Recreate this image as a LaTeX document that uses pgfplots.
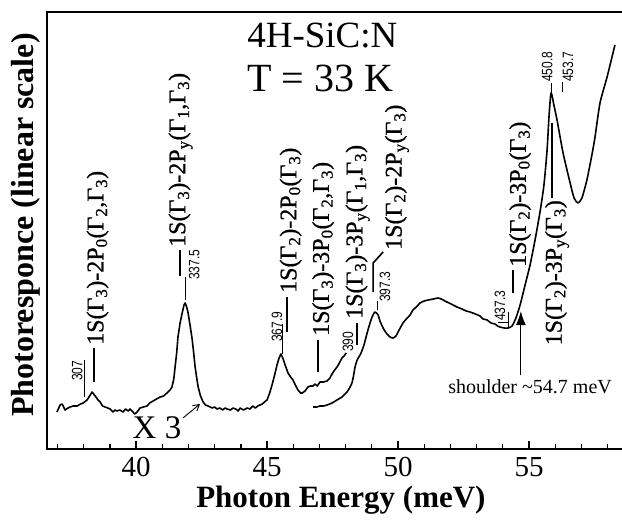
\documentclass[border=0pt]{standalone}
\usepackage{fontspec}
\setmainfont{Liberation Serif}
\newfontfamily\nar[FakeStretch=0.8]{Liberation Sans}
\newfontfamily\labf[FakeBold=0.8]{Liberation Serif}
\usepackage{pgfplots}
\pgfplotsset{compat=1.18}
\usetikzlibrary{arrows.meta}
\newcommand\lab{\labf\fontsize{24}{28}\selectfont}
\newcommand\num{\nar\fontsize{15}{18}\selectfont}
\newcommand\G[1]{Γ\textsubscript{#1}}
\newcommand\sub[1]{\textsubscript{#1}}
\pgfplotstableread{
E Y
36.98 37
37.10 44
37.18 45
37.29 39
37.40 41
37.48 42
37.60 43
37.75 43
37.88 45
37.98 46
38.13 49
38.25 54
38.32 57
38.44 53
38.55 49
38.63 47
38.72 43
38.82 42
38.92 41
39.01 40
39.12 37
39.20 39
39.27 38
39.38 39
39.50 37
39.60 40
39.70 38
39.77 40
39.88 37
39.95 35
40.04 37
40.15 41
40.28 42
40.42 43
40.52 46
40.65 48
40.78 50
40.92 52
41.05 53
41.18 56
41.30 59
41.37 62
41.44 70
41.49 82
41.55 96
41.60 112
41.68 126
41.76 136
41.83 144
41.87 146
41.92 143
41.98 137
42.06 124
42.14 110
42.20 96
42.25 83
42.31 72
42.37 62
42.46 53
42.56 47
42.65 44
42.75 43
42.90 41
43.00 42
43.09 40
43.20 41
43.30 39
43.40 41
43.47 40
43.60 39
43.70 41
43.80 40
43.90 38
43.97 41
44.10 39
44.24 41
44.35 40
44.45 43
44.55 41
44.65 43
44.73 44
44.82 45
44.90 47
45.00 49
45.10 56
45.19 64
45.28 73
45.38 84
45.46 91
45.53 95
45.60 91
45.69 84
45.80 76
45.90 72
45.99 69
46.08 64
46.18 59
46.28 56
46.34 56
46.45 58
46.56 62
46.65 63
46.75 63
46.83 65
46.92 63
47.02 67
47.15 67
47.29 68
47.40 71
47.48 75
47.58 79
47.67 82
47.76 86
47.86 91
47.94 93
48.02 96
}\lowcurve
\pgfplotstableread{
E Y
46.76 42
46.90 42
47.02 43
47.15 43
47.29 44
47.48 46
47.67 49
47.86 52
48.05 57
48.15 61
48.24 66
48.30 73
48.36 82
48.44 89
48.55 94
48.62 98
48.70 104
48.82 116
48.92 125
49.01 132
49.12 137
49.24 134
49.31 128
49.45 120
49.58 115
49.70 112
49.81 111
49.92 113
50.00 117
50.19 126
50.35 131
50.46 134
50.57 139
50.70 142
50.84 146
51.00 148
51.15 149
51.35 150
51.53 151
51.65 150
51.79 148
51.95 146
52.10 144
52.25 142
52.44 140
52.60 138
52.75 137
52.95 135
53.13 133
53.25 130
53.40 129
53.55 126
53.70 125
53.80 123
53.89 122
54.05 121
54.20 121
54.35 123
54.50 131
54.66 144
54.85 164
55.04 184
55.23 209
55.42 237
55.57 264
55.69 299
55.76 331
55.84 356
55.95 344
56.07 329
56.30 296
56.57 266
56.72 251
56.87 246
57.02 251
57.21 269
57.40 294
57.52 312
57.71 346
57.98 372
58.28 404
}\highcurve
\begin{document}
\begin{tikzpicture}
\begin{axis}[
  scale only axis, width=575pt, height=437pt,
  xmin=36.6, xmax=58.55, ymin=0, ymax=437,
  clip=false,
  axis line style={draw=none},
  xtick={40,45,50,55}, minor xtick={37,38,...,58}, ytick=\empty,
  xtick pos=bottom, tick align=inside,
  major tick length=8pt, minor tick length=5pt,
  every tick/.style={black, line width=1.3pt},
  /pgf/number format/assume math mode=true,
  xticklabel style={font=\fontsize{29}{32}\selectfont, yshift=-5pt},
]
\draw[line width=2.4pt, line join=miter] (rel axis cs:1,1) -- (rel axis cs:0,1) -- (rel axis cs:0,0) -- (rel axis cs:1,0);
\coordinate (bbsw) at (rel axis cs:0,0);
\coordinate (bbne) at (rel axis cs:1,1);

\addplot[black, line width=1.6pt, line join=round] table[x=E,y=Y] {\lowcurve};
\addplot[black, line width=1.6pt, line join=round, smooth, tension=0.4] table[x=E,y=Y] {\highcurve};

% axis labels
\node[font=\fontsize{31}{34}\selectfont\bfseries] at ([yshift=-51pt]axis cs:47.82,0) {Photon Energy (meV)};
\node[font=\fontsize{32}{36}\selectfont\bfseries, rotate=90] at ([xshift=-21pt]axis cs:36.6,224) {Photoresponce (linear scale)};

% title
\node[anchor=west, inner sep=0, font=\fontsize{37}{40}\selectfont] at (axis cs:44.24,413) {4H-SiC:N};
\node[anchor=west, inner sep=0, font=\fontsize{40}{44}\selectfont] at (axis cs:44.24,371) {T = 33 K};

% line labels
\draw[line width=2.2pt] (axis cs:38.38,67) -- (axis cs:38.38,101);
\node[rotate=90, anchor=west, inner sep=0, font=\lab] at (axis cs:38.53,104) {1S(\G3)-2P\sub0(\G2,\G3)};
\draw[line width=0.8pt] (axis cs:38.02,52) -- (axis cs:38.02,89);
\node[rotate=90, anchor=west, inner sep=0, font=\num] at (axis cs:37.75,68) {307};

\draw[line width=2.2pt] (axis cs:41.68,173) -- (axis cs:41.68,199);
\node[rotate=90, anchor=west, inner sep=0, font=\lab] at (axis cs:41.70,202) {1S(\G3)-2P\sub{y}(\G1,\G3)};
\draw[line width=0.8pt] (axis cs:41.87,149) -- (axis cs:41.87,172);
\node[rotate=90, anchor=west, inner sep=0, font=\num] at (axis cs:42.22,169) {337.5};

\draw[line width=0.8pt] (axis cs:45.57,95) -- (axis cs:45.57,125);
\node[rotate=90, anchor=west, inner sep=0, font=\num] at (axis cs:45.38,107) {367.9};
\draw[line width=2.2pt] (axis cs:45.75,117) -- (axis cs:45.75,152);
\node[rotate=90, anchor=west, inner sep=0, font=\lab] at (axis cs:45.90,156) {1S(\G2)-2P\sub0(\G3)};

\draw[line width=2.2pt] (axis cs:46.95,77) -- (axis cs:46.95,109);
\node[rotate=90, anchor=west, inner sep=0, font=\lab] at (axis cs:47.14,113) {1S(\G3)-3P\sub0(\G2,\G3)};

\node[rotate=90, anchor=west, inner sep=0, font=\num] at (axis cs:48.09,97) {390};
\draw[line width=2.2pt] (axis cs:48.44,104) -- (axis cs:48.44,126);
\node[rotate=90, anchor=west, inner sep=0, font=\lab] at (axis cs:48.46,130) {1S(\G3)-3P\sub{y}(\G1,\G3)};

\draw[line width=0.8pt] (axis cs:49.20,139) -- (axis cs:49.20,148);
\node[rotate=90, anchor=west, inner sep=0, font=\num] at (axis cs:49.50,147) {397.3};
\draw[line width=1.6pt] (axis cs:49.05,157) -- (axis cs:49.05,186) -- (axis cs:49.43,197);
\node[rotate=90, anchor=west, inner sep=0, font=\lab] at (axis cs:49.96,199) {1S(\G2)-2P\sub{y}(\G3)};

\draw[line width=0.8pt] (axis cs:54.20,121) -- (axis cs:54.20,137);
\draw[line width=0.8pt] (axis cs:53.80,127) -- (axis cs:54.20,127);
\node[rotate=90, anchor=west, inner sep=0, font=\num] at (axis cs:53.89,128) {437.3};

\draw[line width=2.2pt] (axis cs:54.40,156) -- (axis cs:54.40,179);
\node[rotate=90, anchor=west, inner sep=0, font=\lab] at (axis cs:54.66,182) {1S(\G2)-3P\sub0(\G3)};

\draw[line width=0.8pt] (axis cs:55.84,356) -- (axis cs:55.84,366);
\node[rotate=90, anchor=west, inner sep=0, font=\num] at (axis cs:55.69,367) {450.8};
\draw[line width=0.8pt] (axis cs:56.26,357) -- (axis cs:56.26,367);
\node[rotate=90, anchor=west, inner sep=0, font=\num] at (axis cs:56.49,367) {453.7};

\draw[line width=2.2pt] (axis cs:55.88,251) -- (axis cs:55.88,326);
\node[rotate=90, anchor=east, inner sep=0, font=\lab] at (axis cs:56.07,249) {1S(\G2)-3P\sub{y}(\G3)};

% shoulder
\draw[line width=1.2pt, -{Latex[length=14pt,width=10pt]}] (axis cs:54.69,74) -- (axis cs:54.69,138);
\node[font=\fontsize{20}{24}\selectfont] at (axis cs:55.04,62) {shoulder \textasciitilde54.7 meV};

% X 3
\node[font=\fontsize{33}{36}\selectfont] at (axis cs:40.80,21) {X 3};
\draw[line width=0.9pt, -{Straight Barb[length=6pt,width=7pt]}] (axis cs:41.79,31) -- (axis cs:42.44,45);
\end{axis}
\pgfresetboundingbox
\path ([xshift=-47pt,yshift=-70pt]bbsw) rectangle ([yshift=12pt]bbne);
\end{tikzpicture}
\end{document}
